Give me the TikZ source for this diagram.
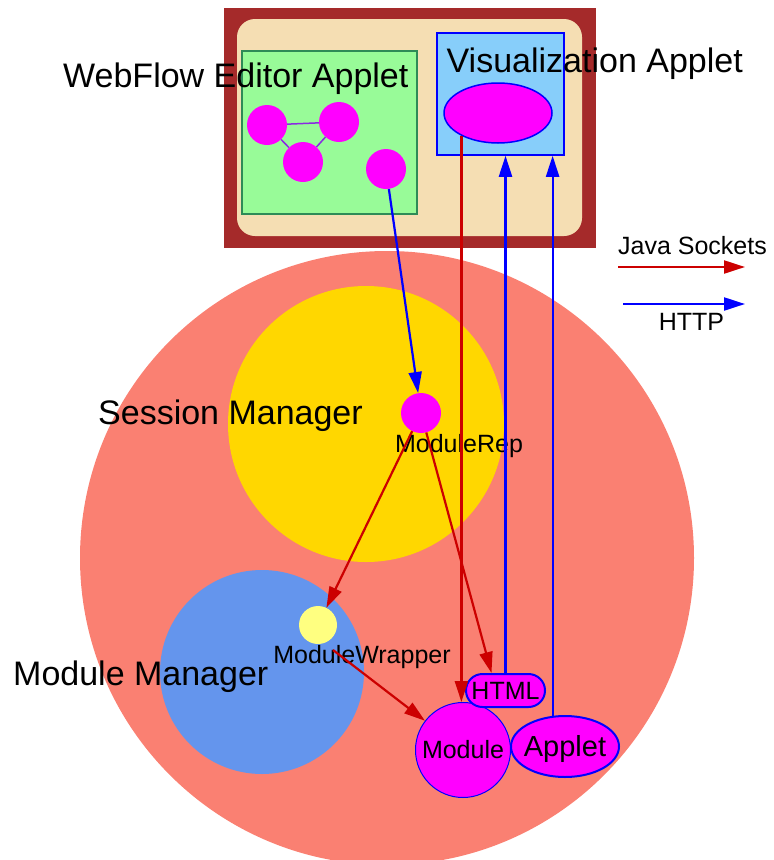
\documentclass[tikz,border=0pt]{standalone}
\usepackage{fontspec}
\setmainfont{Liberation Sans}
\usetikzlibrary{shapes.geometric,shapes.misc,arrows.meta}
\definecolor{framebrown}{HTML}{A52A2A}
\definecolor{wheatbg}{HTML}{F5DEB3}
\definecolor{editorgreen}{HTML}{98FB98}
\definecolor{editorline}{HTML}{2E8B57}
\definecolor{skyblue}{HTML}{87CEFA}
\definecolor{netsalmon}{HTML}{FA8072}
\definecolor{sessiongold}{HTML}{FFD700}
\definecolor{managerblue}{HTML}{6495ED}
\definecolor{wrapperyellow}{HTML}{FFFF80}
\definecolor{sockred}{HTML}{CC0000}
\definecolor{httpblue}{HTML}{0000FF}
\definecolor{linkviolet}{HTML}{8A2BE2}
\definecolor{modpink}{HTML}{FF00FF}
\begin{document}
\begin{tikzpicture}[x=1pt,y=-1pt,
  area/.style={inner sep=0pt, draw=none},
  disc/.style={circle, inner sep=0pt, fill=modpink, draw=none},
  bigtext/.style={font=\fontsize{34}{40}\selectfont, inner sep=0pt},
  smalltext/.style={font=\fontsize{25}{30}\selectfont, inner sep=0pt},
  tip/.style={-{Triangle[length=21pt,width=13pt]}},
  jsock/.style={tip, draw=sockred, fill=sockred, line width=2.2pt},
  http/.style={tip, draw=httpblue, fill=httpblue, line width=2.2pt},
]
\useasboundingbox (0,0) rectangle (774,860);

% browser window with the two applets
\node[area, rectangle, fill=framebrown, minimum width=372pt, minimum height=240pt] (win) at (410,128) {};
\node[area, rectangle, fill=wheatbg, rounded corners=18pt, minimum width=345pt, minimum height=217pt] (page) at (409.5,127.5) {};
\node[rectangle, inner sep=0pt, fill=editorgreen, draw=editorline, line width=1.5pt, minimum width=175pt, minimum height=163pt] (editor) at (329.5,132.5) {};
\node[rectangle, inner sep=0pt, fill=skyblue, draw=httpblue, line width=1.5pt, minimum width=127pt, minimum height=122pt] (visbox) at (500.5,94) {};
\node[ellipse, inner sep=0pt, fill=modpink, draw=httpblue, line width=1.5pt, minimum width=108pt, minimum height=60pt] (visel) at (498,113) {};

% graph in the editor
\node[disc, minimum size=40pt] (e1) at (267,125) {};
\node[disc, minimum size=40pt] (e2) at (339,122) {};
\node[disc, minimum size=40pt] (e3) at (303,162) {};
\node[disc, minimum size=40pt] (e4) at (386,169) {};
\draw[linkviolet, line width=1.5pt] (e1) -- (e2) (e1) -- (e3) (e2) -- (e3);

% server side
\node[area, circle, fill=netsalmon, minimum size=614pt] (server) at (387,558) {};
\node[area, circle, fill=sessiongold, minimum size=276pt] (session) at (366,424) {};
\node[area, circle, fill=managerblue, minimum size=204pt] (manager) at (262,672) {};

\node[disc, minimum size=40pt] (mrep) at (421,413) {};
\node[circle, inner sep=0pt, fill=wrapperyellow, minimum size=38pt] (mw) at (318,625) {};
\node[circle, inner sep=0pt, fill=modpink, draw=httpblue, line width=1pt, minimum size=95pt, smalltext] (mod) at (463,750) {Module};
\node[rounded rectangle, inner sep=0pt, fill=modpink, draw=httpblue, line width=2pt, minimum width=79pt, minimum height=33pt, smalltext] (html) at (505.5,690.5) {HTML};
\node[ellipse, inner sep=0pt, fill=modpink, draw=httpblue, line width=2pt, minimum width=108pt, minimum height=61pt,
      label={[font=\fontsize{29}{34}\selectfont, inner sep=0pt, yshift=-2pt]center:Applet}] (applet) at (565,746.5) {};

% labels
\node[bigtext, anchor=base west] (lweb) at (63,87) {WebFlow Editor Applet};
\node[bigtext, anchor=base east] (lvis) at (743,72) {Visualization Applet};
\node[bigtext, anchor=base west] (lsess) at (98,424) {Session Manager};
\node[bigtext, anchor=base west] (lman) at (13,685) {Module Manager};
\node[smalltext, anchor=base] (lrep) at (459,452) {ModuleRep};
\node[smalltext, anchor=base] (lwrap) at (362,663) {ModuleWrapper};

% connectors
\coordinate (mwout) at (333,650);
\draw[http] (e4) -- (mrep);
\draw[jsock] (visel.212) -- (mod.north -| visel.212);
\draw[http] (html.north) -- (html.north |- visbox.south);
\draw[http] (applet.112) -- (applet.112 |- visbox.south);
\draw[jsock] (mrep) -- (mw);
\draw[jsock] (mrep) -- ([xshift=-14pt]html.north);
\draw[jsock] (mwout) -- (mod);

% legend
\node[smalltext, anchor=base] (ljava) at (692.5,254) {Java Sockets};
\node[smalltext, anchor=base] (lhttp) at (691.5,330) {HTTP};
\coordinate (js0) at (618,267);
\coordinate (js1) at (745,267);
\coordinate (ht0) at (623,304);
\coordinate (ht1) at (745,304);
\draw[jsock] (js0) -- (js1);
\draw[http] (ht0) -- (ht1);
\end{tikzpicture}
\end{document}
